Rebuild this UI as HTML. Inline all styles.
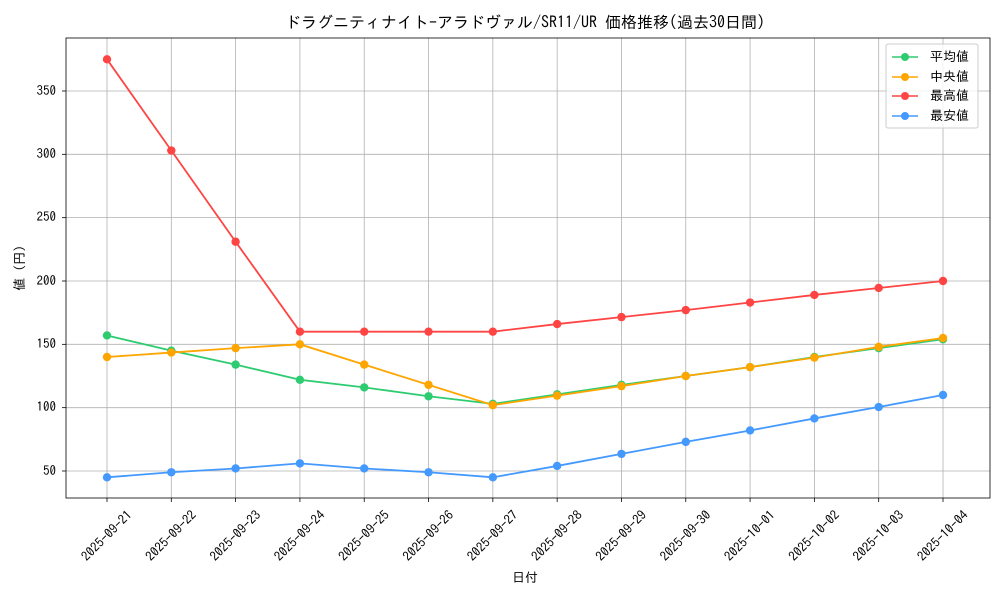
<!DOCTYPE html>
<html><head><meta charset="utf-8"><style>
html,body{margin:0;padding:0;background:#fff;}
svg{display:block;font-family:"IPAGothic","Noto Sans CJK JP",sans-serif;}
</style></head><body>
<svg id="s" width="1000" height="600" viewBox="0 0 1000 600" xmlns="http://www.w3.org/2000/svg">
<rect width="1000" height="600" fill="#fff"/>
<g id="grid" stroke="#b0b0b0" stroke-width="0.8"></g>
<g id="series"></g>
<rect x="66" y="38" width="924" height="460" fill="none" stroke="#000" stroke-width="0.8"/>
<text x="525" y="28" font-size="16" text-anchor="middle">ドラグニティナイト-アラドヴァル/SR11/UR 価格推移(過去30日間)</text>
<g font-size="13" text-anchor="end">
<text x="56" y="95">350</text><text x="56" y="158">300</text><text x="56" y="221">250</text>
<text x="56" y="285">200</text><text x="56" y="348">150</text><text x="56" y="411">100</text>
<text x="56" y="475">50</text>
</g>
<text x="525" y="582" font-size="13" text-anchor="middle">日付</text>
<text transform="translate(24,268) rotate(-90)" font-size="13" text-anchor="middle">値 (円)</text>
<g id="xl" font-size="13" text-anchor="middle">
<text data-i="0">2025-09-21</text><text data-i="1">2025-09-22</text><text data-i="2">2025-09-23</text>
<text data-i="3">2025-09-24</text><text data-i="4">2025-09-25</text><text data-i="5">2025-09-26</text>
<text data-i="6">2025-09-27</text><text data-i="7">2025-09-28</text><text data-i="8">2025-09-29</text>
<text data-i="9">2025-09-30</text><text data-i="10">2025-10-01</text><text data-i="11">2025-10-02</text>
<text data-i="12">2025-10-03</text><text data-i="13">2025-10-04</text>
</g>
<rect x="886" y="44" width="92" height="84" fill="#fff" fill-opacity="0.8" stroke="#ccc" rx="2"/>
<g stroke-width="1.5">
<line x1="892" y1="57" x2="918" y2="57" stroke="#2ecc71"/><circle cx="905" cy="57" r="4" fill="#2ecc71"/>
<line x1="892" y1="77" x2="918" y2="77" stroke="#ffa500"/><circle cx="905" cy="77" r="4" fill="#ffa500"/>
<line x1="892" y1="96" x2="918" y2="96" stroke="#ff4444"/><circle cx="905" cy="96" r="4" fill="#ff4444"/>
<line x1="892" y1="116" x2="918" y2="116" stroke="#4499ff"/><circle cx="905" cy="116" r="4" fill="#4499ff"/>
</g>
<g font-size="13">
<text x="930" y="61">平均値</text><text x="930" y="81">中央値</text>
<text x="930" y="100">最高値</text><text x="930" y="120">最安値</text>
</g>
</svg>
<script>
var NS="http://www.w3.org/2000/svg";
function X(i){return 107+i*836/13;}
function Y(v){return 471-(v-50)*1.2667;}
var g=document.getElementById("grid");
for(var i=0;i<14;i++){var l=document.createElementNS(NS,"line");l.setAttribute("x1",X(i));l.setAttribute("x2",X(i));l.setAttribute("y1",38);l.setAttribute("y2",498);g.appendChild(l);
var t=document.createElementNS(NS,"line");t.setAttribute("x1",X(i));t.setAttribute("x2",X(i));t.setAttribute("y1",498);t.setAttribute("y2",502);t.setAttribute("stroke","#000");g.appendChild(t);}
[50,100,150,200,250,300,350].forEach(function(v){var l=document.createElementNS(NS,"line");l.setAttribute("x1",66);l.setAttribute("x2",990);l.setAttribute("y1",Y(v));l.setAttribute("y2",Y(v));g.appendChild(l);
var t=document.createElementNS(NS,"line");t.setAttribute("x1",62);t.setAttribute("x2",66);t.setAttribute("y1",Y(v));t.setAttribute("y2",Y(v));t.setAttribute("stroke","#000");g.appendChild(t);});
document.querySelectorAll("#xl text").forEach(function(t){var i=+t.getAttribute("data-i");var x=X(i),y=536;t.setAttribute("transform","translate("+x+","+y+") rotate(-45)");t.setAttribute("dy","4");});
var S=[["#2ecc71",[157,145,134,122,116,109,103,110.5,118,125,132,140,147,154]],
["#ffa500",[140,143.5,147,150,134,118,102,109.5,117,125,132,139.5,148,155]],
["#ff4444",[375,303,231,160,160,160,160,166,171.5,177,183,189,194.5,200]],
["#4499ff",[45,49,52,56,52,49,45,54,63.5,73,82,91.5,100.5,110]]];
var sg=document.getElementById("series");
S.forEach(function(s){var p=document.createElementNS(NS,"polyline");p.setAttribute("points",s[1].map(function(v,i){return X(i)+","+Y(v);}).join(" "));p.setAttribute("fill","none");p.setAttribute("stroke",s[0]);p.setAttribute("stroke-width",1.8);sg.appendChild(p);
s[1].forEach(function(v,i){var c=document.createElementNS(NS,"circle");c.setAttribute("cx",X(i));c.setAttribute("cy",Y(v));c.setAttribute("r",4.2);c.setAttribute("fill",s[0]);sg.appendChild(c);});});
</script>
</body></html>
